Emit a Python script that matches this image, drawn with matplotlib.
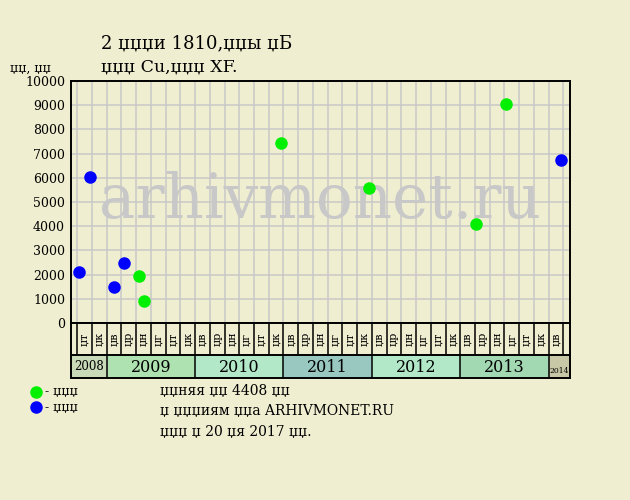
import matplotlib
matplotlib.use("Agg")
import matplotlib.pyplot as plt

# --- data ---
green_dates = ["2009-05-13", "2009-06-04", "2010-12-21", "2011-12-19", "2013-03-06", "2013-07-08"]
green_values = [1940, 910, 7430, 5580, 4080, 9070]
blue_dates = ["2008-09-09", "2008-10-24", "2009-01-29", "2009-03-12", "2014-02-22"]
blue_values = [2100, 6030, 1480, 2470, 6720]

month_labels = ["џв", "џр", "џн", "џг", "џт", "џк"]  # bimonthly, Jan-Feb .. Nov-Dec
years = [2008, 2009, 2010, 2011, 2012, 2013, 2014]
year_colors = ["#c8dab8", "#aee2b0", "#b2e8c8", "#98c8c0", "#b2e8c8", "#a2d8b2", "#c8c8a6"]
y_ticks = list(range(0, 10001, 1000))

title_1 = "2 џџџи 1810,џџы џБ"
title_2 = "џџџ Cu,џџџ XF."
y_unit = "џџ, џџ"
legend_green = "- џџџ"
legend_blue = "- џџџ"
note_lines = ["џџняя џџ 4408 џџ", "џ џџџиям џџа ARHIVMONET.RU", "џџџ џ 20 џя 2017 џџ."]
watermark = "arhivmonet.ru"

BG = "#efeed0"
FONT = "DejaVu Serif"
plt.rcParams["font.family"] = FONT


def mpos(date: str) -> float:
    y, m, d = map(int, date.split("-"))
    return (y - 2008) * 12 + (m - 1) + (d - 1) / 30.0


X0, X1 = 7.08, 74.9
W, H = 630, 500

fig = plt.figure(figsize=(W / 100, H / 100), dpi=100, facecolor=BG)


def box(l, t, r, b):
    return [l / W, 1 - b / H, (r - l) / W, (b - t) / H]


ax = fig.add_axes(box(70.5, 81, 570, 323))
ax.set_facecolor(BG)
ax.set_xlim(X0, X1)
ax.set_ylim(0, 10000)
ax.set_xticks(range(8, 75, 2))
ax.set_xticklabels([])
ax.set_yticks(y_ticks)
ax.set_yticklabels([str(v) for v in y_ticks], fontsize=9)
ax.tick_params(length=0, pad=4)
ax.grid(True, color="#c8c8c8", linewidth=1.1, zorder=0)
ax.set_axisbelow(True)
for s in ax.spines.values():
    s.set_linewidth(1.4)

ax.text(0.5, 0.434, watermark, transform=ax.transAxes, ha="center", va="baseline",
        fontsize=44, color="#c8c8c8", zorder=1)

ax.plot([mpos(d) for d in green_dates], green_values, "o", color="#00f000", ms=8, zorder=3)
ax.plot([mpos(d) for d in blue_dates], blue_values, "o", color="#0000ff", ms=8, zorder=3)

# month labels + year bands below the plot
bx = fig.add_axes(box(70.5, 323, 570, 378))
bx.set_xlim(X0, X1)
bx.set_ylim(0, 55)
bx.set_facecolor(BG)
bx.set_xticks([])
bx.set_yticks([])
for s in bx.spines.values():
    s.set_linewidth(1.4)
bx.vlines(range(8, 75, 2), 23, 55, color="black", linewidth=1.1)
bx.axhline(23, color="black", linewidth=1.4)

for x in range(8, 74, 2):
    lab = month_labels[(x // 2) % 6]
    bx.text(x + 1, 39, lab, rotation=90, ha="center", va="center", fontsize=8)

edges = [X0, 12, 24, 36, 48, 60, 72, X1]
year_sizes = [8.5, 11.5, 11.5, 11.5, 11.5, 11.5, 5.5]
for i, yr in enumerate(years):
    bx.axvspan(edges[i], edges[i + 1], 0, 23 / 55, color=year_colors[i], zorder=0)
    if i > 0:
        bx.plot([edges[i]] * 2, [0, 23], color="black", linewidth=1.1)
    va_y = 11 if i < 6 else 7
    bx.text((edges[i] + edges[i + 1]) / 2, va_y, str(yr), ha="center", va="center",
            fontsize=year_sizes[i])

# titles and notes
fig.text(101 / W, 1 - 48 / H, title_1, fontsize=13, ha="left", va="baseline")
fig.text(101 / W, 1 - 72 / H, title_2, fontsize=12.5, ha="left", va="baseline")
fig.text(10 / W, 1 - 72 / H, y_unit, fontsize=9, ha="left", va="baseline")

fig.lines.append(plt.Line2D([35.7 / W], [1 - 391.7 / H], marker="o", color="#00f000", ms=8,
                            transform=fig.transFigure))
fig.lines.append(plt.Line2D([35.7 / W], [1 - 407.3 / H], marker="o", color="#0000ff", ms=8,
                            transform=fig.transFigure))
fig.text(45 / W, 1 - 395 / H, legend_green, fontsize=9, va="baseline")
fig.text(45 / W, 1 - 411 / H, legend_blue, fontsize=9, va="baseline")

for txt, yb in zip(note_lines, [395, 415, 436]):
    fig.text(160 / W, 1 - yb / H, txt, fontsize=10, va="baseline")

fig.savefig("out.png", dpi=100, facecolor=BG)
